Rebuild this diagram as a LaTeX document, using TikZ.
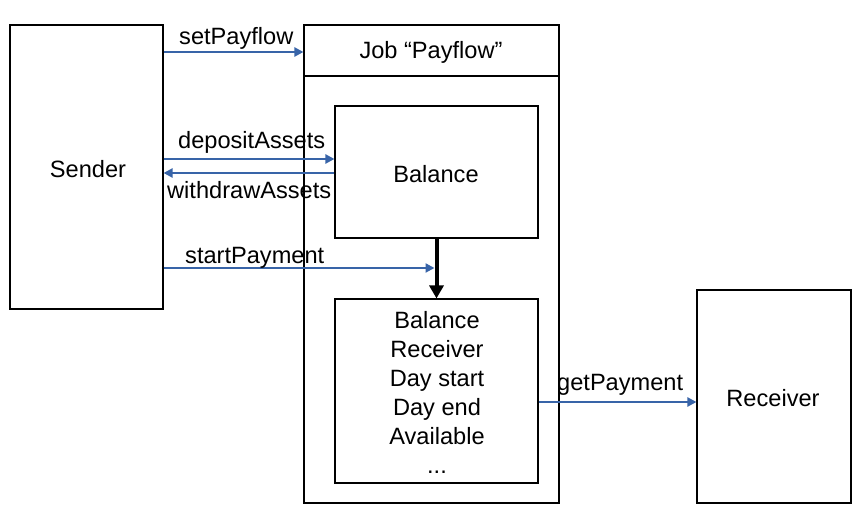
\documentclass[tikz,border=0pt]{standalone}
\usepackage{fontspec}
\setmainfont{Liberation Sans}
\usetikzlibrary{arrows.meta}
\definecolor{flowblue}{RGB}{56,100,168}
\begin{document}
\begin{tikzpicture}[x=1pt,y=-1pt,
  box/.style={draw=black,line width=1.1pt,inner sep=0pt},
  lbl/.style={inner sep=0pt,font=\fontsize{23.6}{29}\selectfont},
  flow/.style={draw=flowblue,line width=2.2pt,-{Triangle[length=9pt,width=9pt]}},
  thick arrow/.style={draw=black,line width=4pt,-{Triangle[length=13pt,width=14pt]}}]
\useasboundingbox (0,0) rectangle (868,526);
% boxes
\node[box,minimum width=153pt,minimum height=284pt] (sender) at (86.5,167) {};
\node[lbl,anchor=base] at (88,177.5) {Sender};
\node[box,minimum width=255pt,minimum height=478pt] (job) at (431.5,264) {};
\coordinate (hdr) at (0,76);
\draw[line width=1.1pt] (job.west |- hdr) -- (job.east |- hdr);
\node[lbl,anchor=base] (jobtitle) at (431,59) {Job “Payflow”};
\node[box,minimum width=203pt,minimum height=132pt] (balance) at (436.5,172) {};
\node[lbl,anchor=base] at (436,182.5) {Balance};
\node[box,minimum width=203pt,minimum height=184pt] (info) at (436.5,391) {};
\node[lbl,anchor=base] at (437,329) {Balance};
\node[lbl,anchor=base] at (437,358) {Receiver};
\node[lbl,anchor=base] at (437,387) {Day start};
\node[lbl,anchor=base] at (437,416) {Day end};
\node[lbl,anchor=base] at (437,445) {Available};
\node[lbl,anchor=base] at (437,474) {...};
\node[box,minimum width=154pt,minimum height=213pt] (receiver) at (774,396.5) {};
\node[lbl,anchor=base] at (773,406.5) {Receiver};
% connectors
\coordinate (ya) at (0,52);
\coordinate (yb) at (0,159);
\coordinate (yc) at (0,173);
\coordinate (yd) at (0,268);
\coordinate (ye) at (0,402);
\draw[flow] (sender.east |- ya) -- (job.west |- ya);
\draw[flow] (sender.east |- yb) -- (balance.west |- yb);
\draw[flow] (balance.west |- yc) -- (sender.east |- yc);
\coordinate (mid) at (436.5,268);
\draw[flow] (sender.east |- yd) -- ([xshift=-2pt]mid);
\draw[thick arrow] (balance.south) -- (info.north);
\draw[flow] (info.east |- ye) -- (receiver.west |- ye);
% labels
\node[lbl,anchor=base west] at (179,44.5) {setPayflow};
\node[lbl,anchor=base west] at (178,149) {depositAssets};
\node[lbl,anchor=base west] at (167,199) {withdrawAssets};
\node[lbl,anchor=base west] at (185,264) {startPayment};
\node[lbl,anchor=base west] at (557,391) {getPayment};
\end{tikzpicture}
\end{document}
